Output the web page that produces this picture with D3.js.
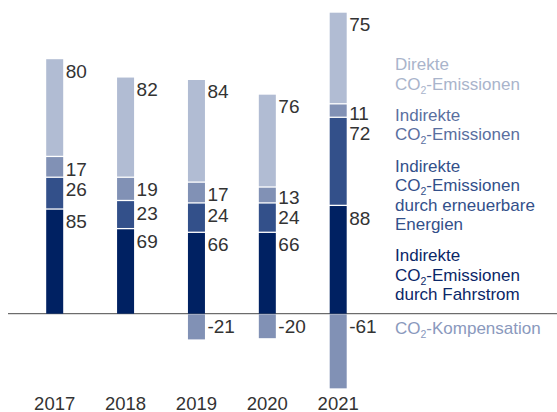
<!DOCTYPE html>
<html>
<head>
<meta charset="utf-8">
<script src="https://cdn.jsdelivr.net/npm/d3@7"></script>
<style>
  html, body { margin: 0; padding: 0; background: #fff; }
  svg { display: block; font-family: "Liberation Sans", Arial, Helvetica, sans-serif; }
</style>
</head>
<body>
<svg id="chart" width="557" height="412"></svg>
<script>
// Years and CO2 components (positive stack from bottom to top, compensation below zero)
const years = ["2017", "2018", "2019", "2020", "2021"];
const fahrstrom = [85, 69, 66, 66, 88];
const erneuerbar = [26, 23, 24, 24, 72];
const indirekt = [17, 19, 17, 13, 11];
const direkt = [80, 82, 84, 76, 75];
const kompensation = [null, null, -21, -20, -61];

// Legend texts; "CO2" is written with a subscript 2
const legendLines = [
  ["Direkte", "CO2-Emissionen"],
  ["Indirekte", "CO2-Emissionen"],
  ["Indirekte", "CO2-Emissionen", "durch erneuerbare", "Energien"],
  ["Indirekte", "CO2-Emissionen", "durch Fahrstrom"],
  ["CO2-Kompensation"]
];

const barColors = ["#002162", "#33508a", "#8191b5", "#b1bcd3"];
const negColor = "#8191b5";
const legendColors = ["#a9b4cb", "#5a6f9f", "#33508a", "#0b2768", "#8a99bd"];
const legendTop = [70, 120.5, 171.5, 261, 334];
const lineH = 19.5;

const svg = d3.select("#chart");
const x = d3.scalePoint().domain(years).range([54.7, 338.2]);
const y = d3.scaleLinear().domain([0, 246]).range([313.7, 12.7]);
const bw = 17;
const gap = 1.3;

const series = [fahrstrom, erneuerbar, indirekt, direkt];

// zero line
svg.append("line")
  .attr("x1", 8).attr("x2", 557)
  .attr("y1", y(0)).attr("y2", y(0))
  .attr("stroke", "#4a4a4a").attr("stroke-width", 1);

years.forEach((yr, i) => {
  let base = 0;
  const labels = [];
  series.forEach((s, k) => {
    const v = s[i];
    const top = base + v;
    const y0 = y(base) - (k === 0 ? 0 : gap);
    const y1 = y(top);
    svg.append("rect")
      .attr("x", x(yr) - bw / 2).attr("width", bw)
      .attr("y", y1).attr("height", Math.max(0, y0 - y1))
      .attr("fill", barColors[k]);
    labels.push({ v, by: y1 + 18.5 });
    base = top;
  });
  // resolve overlaps between adjacent labels (top-down order)
  labels.sort((a, b) => a.by - b.by);
  for (let j = 1; j < labels.length; j++) {
    const d = labels[j].by - labels[j - 1].by;
    if (d < 20) {
      const m = (labels[j].by + labels[j - 1].by) / 2;
      labels[j - 1].by = m - 10;
      labels[j].by = m + 10;
    }
  }
  labels.forEach(l => {
    svg.append("text")
      .attr("x", x(yr) + bw / 2 + 2.5).attr("y", l.by)
      .attr("font-size", 19).attr("fill", "#333")
      .text(l.v);
  });

  const n = kompensation[i];
  if (n !== null) {
    const y0 = y(0) + gap * 0.5;
    svg.append("rect")
      .attr("x", x(yr) - bw / 2).attr("width", bw)
      .attr("y", y0).attr("height", y(n) - y0)
      .attr("fill", negColor);
    svg.append("text")
      .attr("x", x(yr) + bw / 2 + 2.5).attr("y", y(0) + 19.5)
      .attr("font-size", 19).attr("fill", "#333")
      .text(n);
  }

  svg.append("text")
    .attr("x", x(yr)).attr("y", 409.5)
    .attr("text-anchor", "middle")
    .attr("font-size", 18.5).attr("fill", "#333")
    .text(yr);
});

// legend
function addLine(g, str, yy) {
  const t = g.append("text").attr("x", 395).attr("y", yy).attr("font-size", 17);
  const idx = str.indexOf("CO2");
  if (idx < 0) { t.text(str); return; }
  if (idx > 0) t.append("tspan").text(str.slice(0, idx));
  t.append("tspan").text("CO");
  t.append("tspan").attr("font-size", 10.5).attr("dy", 4).text("2");
  t.append("tspan").attr("dy", -4).text(str.slice(idx + 3));
}
legendLines.forEach((lines, i) => {
  const g = svg.append("g").attr("fill", legendColors[i]);
  lines.forEach((ln, j) => addLine(g, ln, legendTop[i] + j * lineH));
});
</script>
</body>
</html>
